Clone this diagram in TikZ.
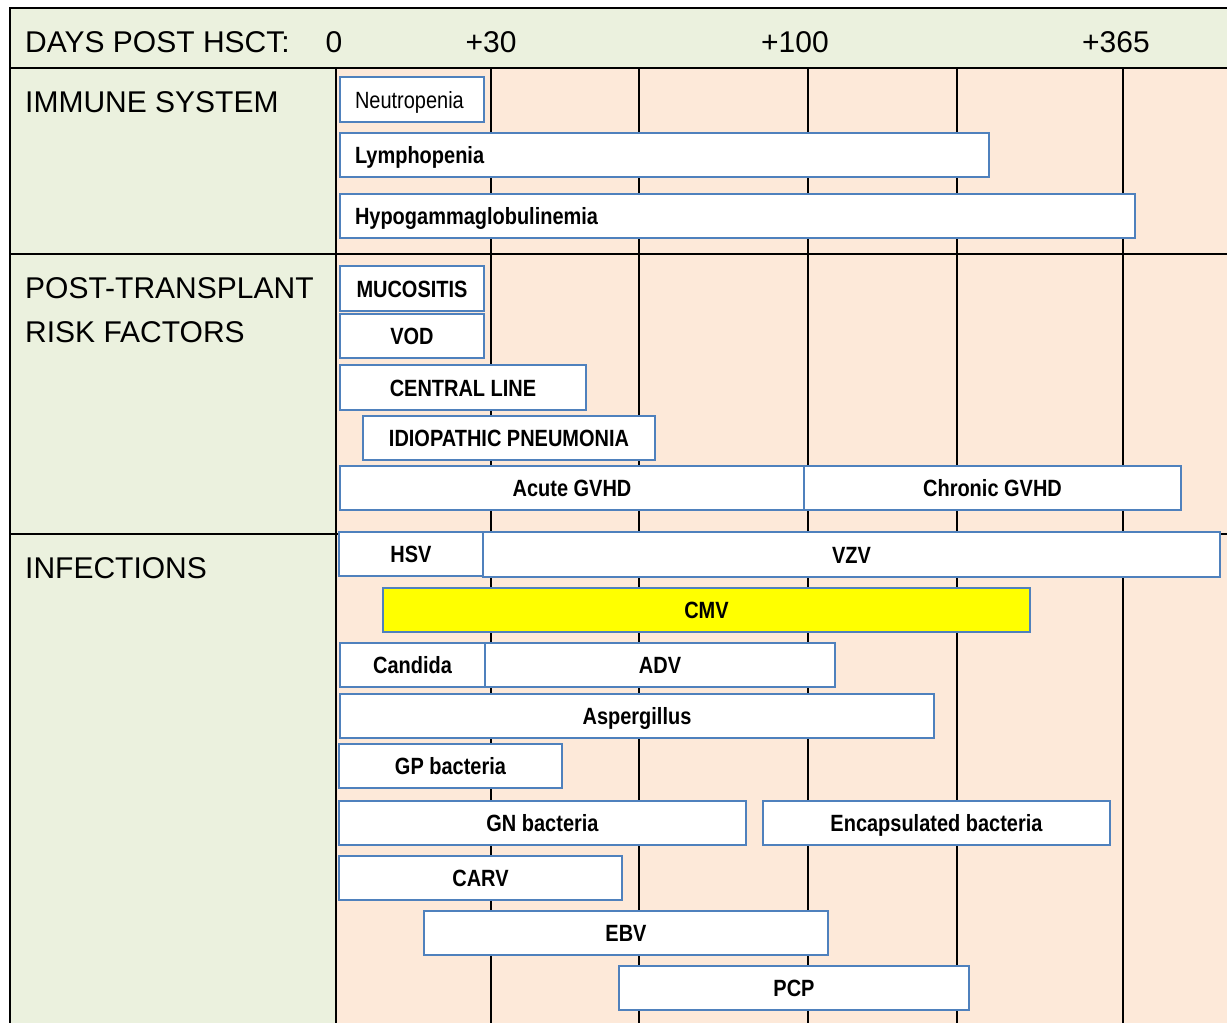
\documentclass[tikz,border=0pt]{standalone}
\usepackage{fontspec}
\setmainfont{Liberation Sans}
\newfontfamily\narrowfont[FakeStretch=0.85]{Liberation Sans}
\definecolor{sage}{HTML}{EBF1DE}
\definecolor{peach}{HTML}{FDE9D9}
\definecolor{barblue}{HTML}{4F81BD}
\definecolor{cmvyellow}{HTML}{FFFF00}
\newcommand\mkbar[7][]{%
  \node[bar,minimum width={(#4)-(#3)},minimum height={(#6)-(#5)},#1] (#2) at ({((#3)+(#4))/2},{((#5)+(#6))/2}) {#7};}
\newcommand\mkbarL[7][]{%
  \pgfmathsetmacro\barTW{(#4)-(#3)-30}%
  \node[bar,inner xsep=15pt,text width=\barTW pt,align=left,minimum height={(#6)-(#5)},#1] (#2) at ({((#3)+(#4))/2},{((#5)+(#6))/2}) {#7};}
\begin{document}
\begin{tikzpicture}[x=1pt,y=-1pt,
  bar/.style={draw=barblue, fill=white, line width=1.6pt, inner sep=0pt,
    font=\narrowfont\fontsize{23.5}{26}\selectfont\bfseries, text height=17pt, text depth=0pt},
  regbar/.style={font=\narrowfont\fontsize{23.5}{26}\selectfont},
  gridline/.style={line width=2pt, black},
  hdr/.style={font=\fontsize{30}{36}\selectfont, inner sep=0pt}]
\useasboundingbox (0,0) rectangle (1227,1023);
\clip (0,0) rectangle (1227,1023);
% backgrounds
\fill[peach] (336,68) rectangle (1240,1040);
\fill[sage] (10,8) rectangle (1240,68);
\fill[sage] (10,68) rectangle (336,1040);
% grid
\foreach \x in {491,639,808,957,1123} \draw[gridline] (\x,68) -- (\x,1040);
\draw[gridline] (10,68) -- (1240,68);
\draw[gridline] (10,254) -- (1240,254);
\draw[gridline] (10,534) -- (1240,534);
\draw[gridline] (336,68) -- (336,1040);
\draw[line width=2.2pt] (1240,8) -- (10,8) -- (10,1040);
% header
\node[hdr,anchor=base west] (hdays) at (25,52) {DAYS POST HSCT:};
\node[hdr,anchor=base] (h0) at (334,52) {0};
\node[hdr,anchor=base] (h30) at (491,52) {+30};
\node[hdr,anchor=base] (h100) at (795,52) {+100};
\node[hdr,anchor=base] (h365) at (1116,52) {+365};
% section labels
\node[hdr,anchor=base west] (simmune) at (25,112) {IMMUNE SYSTEM};
\node[hdr,anchor=base west] (spost) at (25,298) {POST-TRANSPLANT};
\node[hdr,anchor=base west] (srisk) at (25,342) {RISK FACTORS};
\node[hdr,anchor=base west] (sinf) at (25,578) {INFECTIONS};
% immune system
\mkbarL[regbar]{neut}{340}{484}{77}{122}{Neutropenia}
\mkbarL{lymph}{340}{989}{133}{177}{Lymphopenia}
\mkbarL{hypo}{340}{1135}{194}{238}{Hypogammaglobulinemia}
% risk factors
\mkbar{muco}{340}{484}{266}{311}{MUCOSITIS}
\mkbar{vod}{340}{484}{314}{358}{VOD}
\mkbar{cline}{340}{586}{365}{410}{CENTRAL LINE}
\mkbar{idio}{363}{655}{416}{460}{IDIOPATHIC PNEUMONIA}
\mkbar{agvhd}{340}{804}{466}{510}{Acute GVHD}
\mkbar{cgvhd}{804}{1181}{466}{510}{Chronic GVHD}
% infections
\mkbar{hsv}{339}{483}{532}{576}{HSV}
\mkbar{vzv}{483}{1220}{532}{577}{VZV}
\mkbar[fill=cmvyellow]{cmv}{383}{1030}{588}{632}{CMV}
\mkbar{candida}{340}{485}{643}{687}{Candida}
\mkbar{adv}{485}{835}{643}{687}{ADV}
\mkbar{asp}{340}{934}{694}{738}{Aspergillus}
\mkbar{gp}{339}{562}{744}{788}{GP bacteria}
\mkbar{gn}{339}{746}{801}{845}{GN bacteria}
\mkbar{encap}{763}{1110}{801}{845}{Encapsulated bacteria}
\mkbar{carv}{339}{622}{856}{900}{CARV}
\mkbar{ebv}{424}{828}{911}{955}{EBV}
\mkbar{pcp}{619}{969}{966}{1010}{PCP}
\end{tikzpicture}
\end{document}
